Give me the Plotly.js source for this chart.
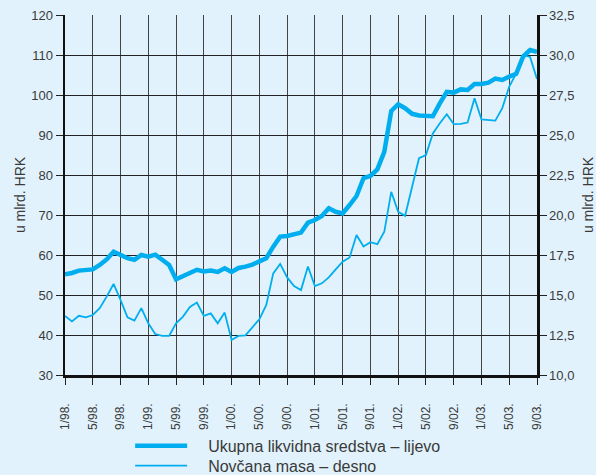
<!DOCTYPE html>
<html>
<head>
<meta charset="utf-8">
<script src="https://cdn.plot.ly/plotly-3.0.1.min.js"></script>
<style>
html,body{margin:0;padding:0;background:#e1f2fc;}
#chart{width:596px;height:475px;}
</style>
</head>
<body>
<div id="chart"></div>
<script>
// Monthly observations, 1/98. to 9/03.
var tickLabels = ['1/98.','5/98.','9/98.','1/99.','5/99.','9/99.','1/00.','5/00.','9/00.',
  '1/01.','5/01.','9/01.','1/02.','5/02.','9/02.','1/03.','5/03.','9/03.'];

// Ukupna likvidna sredstva (left axis, bn HRK)
var ukupna = [55.2,55.5,56.1,56.2,56.4,57.5,58.9,60.8,60.0,59.2,58.8,60.0,59.6,60.1,58.8,57.5,
  53.9,54.7,55.3,56.3,55.9,56.1,55.75,56.7,55.75,56.75,57.1,57.6,58.4,59.2,62.1,64.6,64.75,
  65.25,65.6,68.1,68.75,69.75,71.7,70.8,70.4,72.5,74.75,79.2,79.75,81.4,85.8,96.0,97.7,96.7,
  95.3,94.9,94.75,94.7,97.9,100.8,100.6,101.4,101.25,102.75,102.75,103.1,104.1,103.75,104.6,
  105.3,109.6,111.25,110.8];

// Novčana masa (right axis, bn HRK)
var novcana = [13.69,13.35,13.70,13.60,13.75,14.18,14.90,15.69,14.69,13.60,13.40,14.18,13.23,
  12.56,12.44,12.44,13.23,13.65,14.25,14.53,13.69,13.85,13.23,13.90,12.19,12.44,12.48,12.98,
  13.48,14.38,16.35,16.94,16.10,15.56,15.31,16.78,15.56,15.73,16.10,16.60,17.08,17.35,18.75,
  18.03,18.30,18.18,18.95,21.45,20.20,19.95,21.78,23.55,23.75,25.10,25.73,26.30,25.68,25.69,
  25.78,27.30,25.98,25.94,25.90,26.68,28.03,28.85,30.00,29.88,28.50];

var seriesNames = ['Ukupna likvidna sredstva – lijevo', 'Novčana masa – desno'];

var monthIndex = ukupna.map(function(_, i){ return i; });
var tickVals = tickLabels.map(function(_, i){ return i * 4; });

var lineColor = '#00aeef';
var textColor = '#3a3a3a';
var fontFamily = '"Liberation Sans", Arial, Helvetica, sans-serif';
var gap = '\u2003';

var traces = [
  {x: monthIndex, y: ukupna, type: 'scatter', mode: 'lines',
   name: gap + seriesNames[0], legend: 'legend',
   line: {color: lineColor, width: 4.5}, yaxis: 'y'},
  {x: monthIndex, y: novcana, type: 'scatter', mode: 'lines',
   name: gap + seriesNames[1], legend: 'legend2',
   line: {color: lineColor, width: 1.8}, yaxis: 'y2'}
];

var legendBase = {xanchor: 'left', yanchor: 'middle', bgcolor: 'rgba(0,0,0,0)',
  font: {size: 16, color: textColor}, itemwidth: 52, borderwidth: 0};

var layout = {
  width: 596, height: 475,
  paper_bgcolor: '#e1f2fc', plot_bgcolor: '#e1f2fc',
  margin: {l: 65, r: 59, t: 15, b: 100, autoexpand: false},
  separators: ', ',
  font: {family: fontFamily, color: textColor, size: 13},
  showlegend: true,
  legend: Object.assign({}, legendBase, {x: 0.138, y: -0.197}),
  legend2: Object.assign({}, legendBase, {x: 0.138, y: -0.252}),
  xaxis: {
    range: [0, 68], tickvals: tickVals, ticktext: tickLabels, tickangle: -90,
    tickfont: {size: 12}, ticks: 'outside', ticklen: 7, tickcolor: '#222',
    ticklabelstandoff: 14,
    showgrid: true, gridcolor: '#444', gridwidth: 1,
    showline: true, linecolor: '#111', linewidth: 2.5, zeroline: false
  },
  yaxis: {
    range: [30, 120], dtick: 10, tick0: 30,
    ticks: 'outside', ticklen: 7, tickcolor: '#222',
    showgrid: true, gridcolor: '#222', gridwidth: 1,
    showline: true, linecolor: '#111', linewidth: 2.5, zeroline: false,
    title: {text: 'u mlrd. HRK', font: {size: 14}, standoff: 3}
  },
  yaxis2: {
    range: [10, 32.5], dtick: 2.5, tick0: 10, tickformat: '.1f',
    overlaying: 'y', side: 'right',
    ticks: 'outside', ticklen: 7, tickcolor: '#222',
    showgrid: false, showline: true, linecolor: '#111', linewidth: 2.5, zeroline: false,
    title: {text: 'u mlrd. HRK', font: {size: 14}, standoff: 10}
  }
};

Plotly.newPlot('chart', traces, layout, {displayModeBar: false, staticPlot: true});
</script>
</body>
</html>
